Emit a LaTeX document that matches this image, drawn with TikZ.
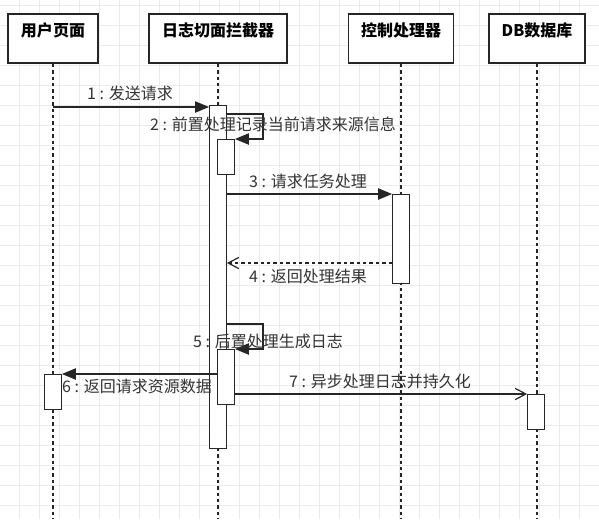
\documentclass[tikz,border=0pt]{standalone}
\usepackage{fontspec}
\setmainfont{Noto Sans CJK SC}
\usetikzlibrary{arrows.meta}

\begin{document}
\begin{tikzpicture}[x=0.75pt, y=-0.75pt,
  gridline/.style={black!8, line width=0.5pt},
  headbox/.style={draw=black!85, line width=1.1pt, fill=white, minimum height=36.75pt, inner sep=0pt},
  headtext/.style={font=\fontsize{12}{14}\selectfont\bfseries, inner sep=0pt},
  lifeline/.style={black!85, line width=0.9pt, dash pattern=on 2.6pt off 2.2pt},
  act/.style={draw=black!85, line width=0.9pt, fill=white, minimum width=12.5pt, inner sep=0pt, anchor=north},
  msg/.style={black!85, line width=0.9pt, -{Triangle[length=10.5pt,width=8.5pt]}},
  async/.style={black!85, line width=0.9pt, -{Straight Barb[length=8pt,width=8.5pt]}},
  reply/.style={async, dash pattern=on 2.6pt off 2.2pt},
  lbl/.style={font=\fontsize{12}{14}\selectfont, text=black!80, inner sep=0pt}
]

\useasboundingbox (0,0) rectangle (599,519);

% Draw the background grid
\foreach \gx in {19,39,...,599} \draw[gridline] (\gx,0) -- (\gx,519);
\foreach \gy in {5,25,...,519} \draw[gridline] (0,\gy) -- (599,\gy);

% Lifeline heads and dashed lifelines
\foreach \name/\lx/\w/\txt in {user/53/67.5pt/用户页面, aop/218/103.5pt/日志切面拦截器, ctrl/401/78.75pt/控制处理器, db/537/72pt/DB数据库}
{
  \node[headbox, minimum width=\w] (\name) at (\lx,38.5) {};
  \node[headtext] (\name-t) at (\lx,30) {\txt};
  \draw[lifeline] (\name.south) -- (\name.south |- 0,519);
}

% Activation bars
\node[act, minimum height=257.25pt] (aop-act) at (218,105) {};
\node[act, minimum height=26.25pt] (pre) at (226,139) {};
\node[act, minimum height=66.75pt] (ctrl-act) at (401,194) {};
\node[act, minimum height=41.25pt] (post) at (226,349) {};
\node[act, minimum height=26.25pt] (user-act) at (53,374) {};
\node[act, minimum height=26.25pt] (db-act) at (536,394) {};

% Messages
\coordinate (m1) at (53,107);
\coordinate (s2) at (263,114);
\coordinate (m3) at (300,194);
\coordinate (m4) at (300,263);
\coordinate (s5) at (263,324);
\coordinate (m6) at (130,374);
\coordinate (m7) at (400,394);

\draw[msg] (m1) -- (m1 -| aop-act.west);
\draw[msg] (s2 -| aop-act.east) -- (s2) |- (pre.north east);
\draw[msg] (m3 -| aop-act.east) -- (m3 -| ctrl-act.west);
\draw[reply] (m4 -| ctrl-act.west) -- (m4 -| aop-act.east);
\draw[msg] (s5 -| aop-act.east) -- (s5) |- (post.north east);
\draw[msg] (m6 -| post.west) -- (m6 -| user-act.east);
\draw[async] (m7 -| post.east) -- (m7 -| db-act.west);

% Message labels
\node[lbl] (m1-l) at (130,93) {1 : 发送请求};
\node[lbl] (s2-l) at (273,124) {2 : 前置处理记录当前请求来源信息};
\node[lbl] (m3-l) at (308,181) {3 : 请求任务处理};
\node[lbl] (m4-l) at (308,276) {4 : 返回处理结果};
\node[lbl] (s5-l) at (268,341) {5 : 后置处理生成日志};
\node[lbl] (m6-l) at (137,386) {6 : 返回请求资源数据};
\node[lbl] (m7-l) at (380,381) {7 : 异步处理日志并持久化};

\end{tikzpicture}
\end{document}
